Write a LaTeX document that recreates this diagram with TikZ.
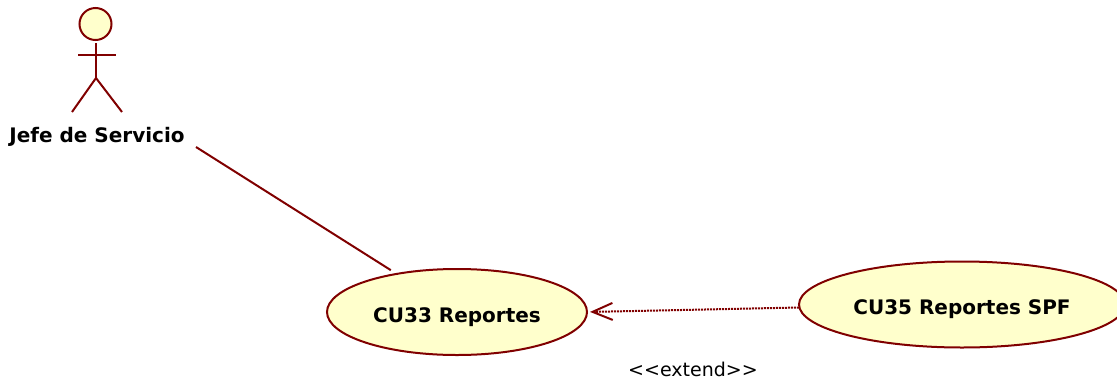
\documentclass[tikz,border=0pt]{standalone}
\usepackage{fontspec}
\setmainfont{DejaVu Sans}
\usepackage{tikz}
\usetikzlibrary{positioning}
\usetikzlibrary{arrows.meta}
\usetikzlibrary{shapes.geometric}
\definecolor{umlline}{RGB}{128,0,0}
\definecolor{umlfill}{RGB}{255,255,204}
\tikzset{
	usecase/.style={draw=umlline, fill=umlfill, line width=2pt, ellipse, inner sep=0pt, outer sep=0pt, text height=20pt, text depth=0pt, font=\fontsize{20}{24}\selectfont\bfseries},
	actorline/.style={draw=umlline, line width=2pt},
	extendline/.style={draw=umlline, line width=2pt, dash pattern=on 2pt off 1pt, shorten >=3pt, -{Straight Barb[length=20pt,width=17pt,line width=2pt]}},
}
\begin{document}
\begin{tikzpicture}[x=1pt,y=-1pt]
	
	\useasboundingbox (0,0) rectangle (1117,381);
	
	% ------------------------------------------------
	% Actor
	\node[circle, draw=umlline, fill=umlfill, line width=2pt, minimum size=32pt, inner sep=0pt, outer sep=0pt] (Head) at (95.5,24) {};
	\coordinate (Neck) at (96,43);
	\coordinate (Hip) at (96,78);
	\coordinate (ArmL) at (78,55);
	\coordinate (ArmR) at (116,55);
	\coordinate (LegL) at (72,112);
	\coordinate (LegR) at (122,112);
	
	\draw[actorline] (Neck) -- (Hip);
	\draw[actorline] (ArmL) -- (ArmR);
	\draw[actorline] (LegL) -- (Hip) -- (LegR);
	
	\node[font=\fontsize{20}{24}\selectfont\bfseries] (JefeLabel) at (97,137) {Jefe de Servicio};
	
	% ------------------------------------------------
	% Use cases
	\node[usecase, minimum width=260pt, minimum height=86pt] (CU33) at (457,312) {CU33 Reportes};
	\node[usecase, minimum width=326pt, minimum height=86pt] (CU35) at (962,304.5) {CU35 Reportes SPF};
	
	\node[font=\fontsize{19}{23}\selectfont] (ExtendLabel) at (693,369.5) {<{}<extend>{}>};
	
	% ------------------------------------------------
	% Connectors
	\coordinate (AssocStart) at (196,147);
	\draw[actorline, shorten >=7pt] (AssocStart) -- (CU33);
	\draw[extendline] (CU35.west) ++(0,3) -- (CU33.east);
	
\end{tikzpicture}
\end{document}
